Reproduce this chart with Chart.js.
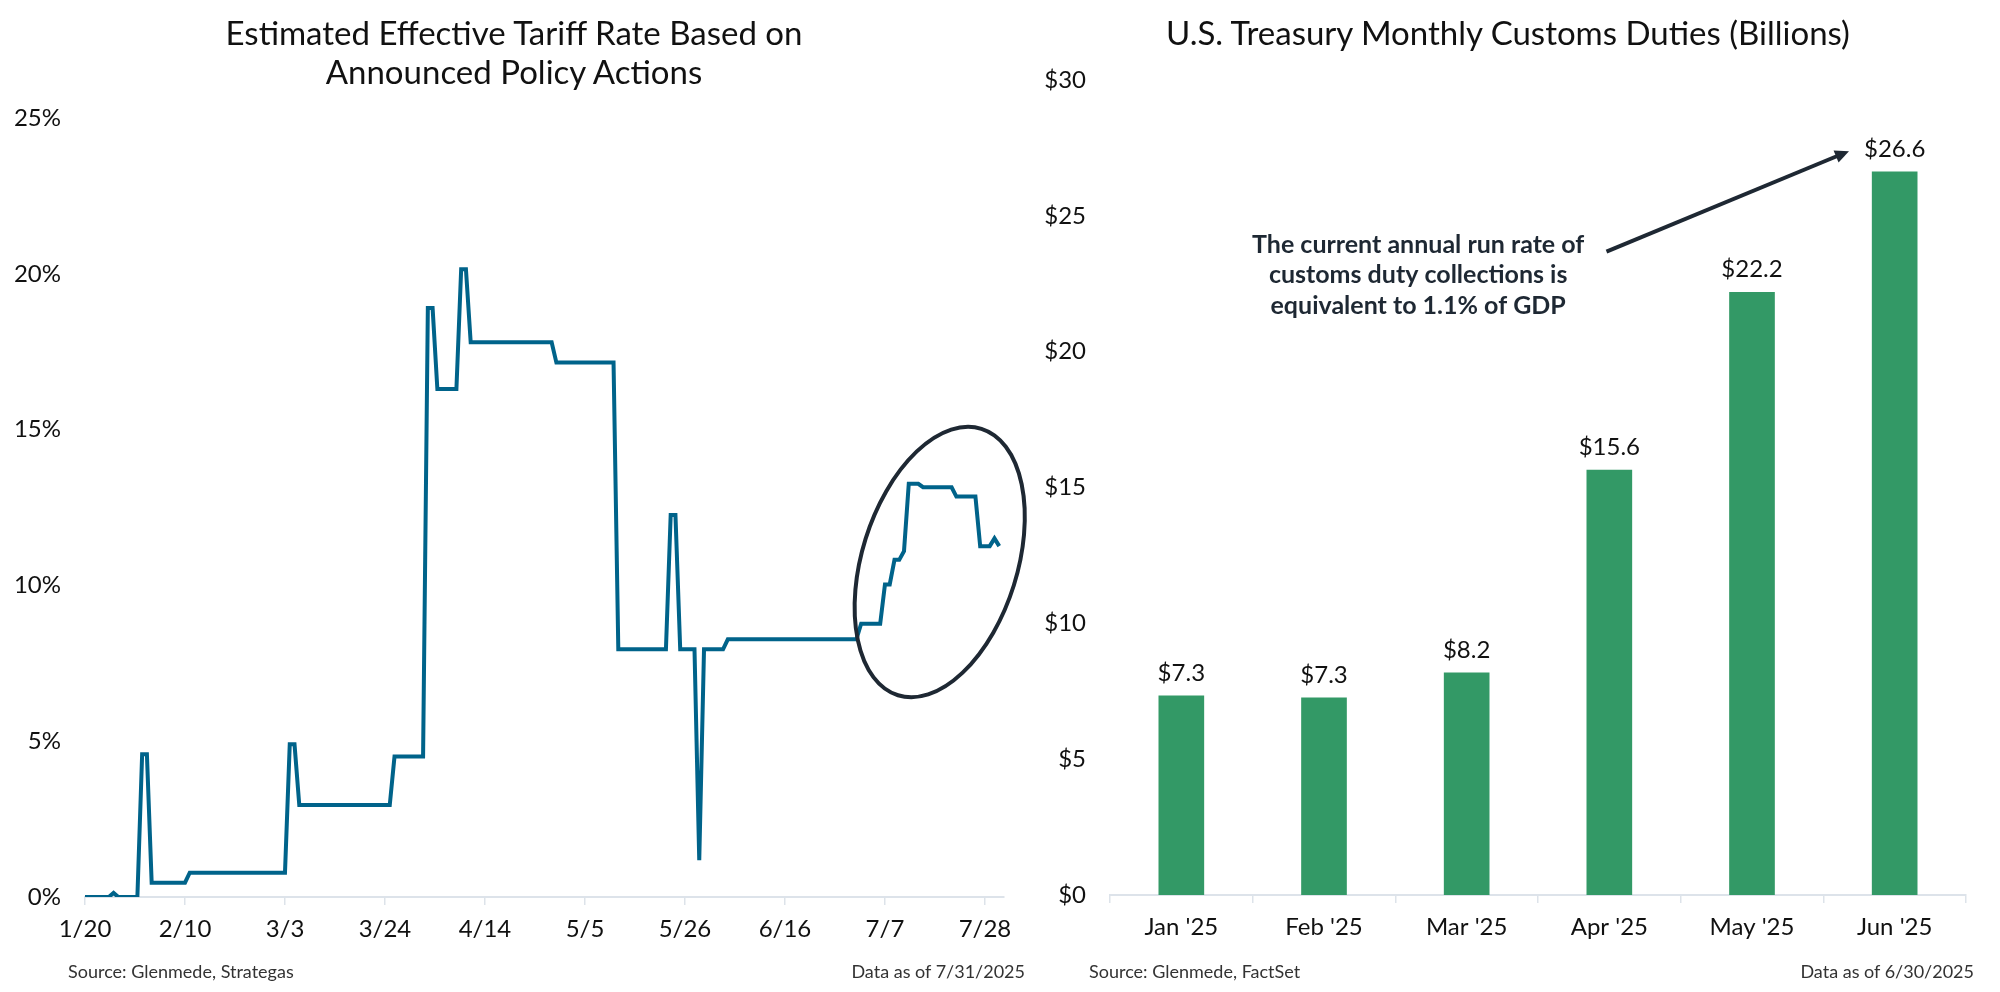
<!DOCTYPE html>
<html><head><meta charset="utf-8">
<script src="https://cdn.jsdelivr.net/npm/chart.js@4.4.1/dist/chart.umd.min.js"></script>
<style>
html,body{margin:0;padding:0;background:#fff;width:2000px;height:992px;overflow:hidden;font-family:Lato,sans-serif;color:#111;}
.title{position:absolute;text-align:center;font-size:33px;line-height:39px;color:#111;white-space:nowrap;z-index:2}
.note{position:absolute;font-size:18px;line-height:20px;color:#333;white-space:nowrap;z-index:2}
#w1{position:absolute;left:0;top:0;width:1060px;height:992px;z-index:1}
#w2{position:absolute;left:1000px;top:0;width:1000px;height:992px}
</style></head>
<body>
<div id="w2"><canvas id="c2"></canvas></div>
<div id="w1"><canvas id="c1"></canvas></div>
<div class="title" style="left:14px;top:13px;width:1000px">Estimated Effective Tariff Rate Based on<br>Announced Policy Actions</div>
<div class="title" style="left:1008px;top:13px;width:1000px">U.S. Treasury Monthly Customs Duties (Billions)</div>
<div class="note" style="left:68px;top:961px">Source: Glenmede, Strategas</div>
<div class="note" style="right:975px;top:961px">Data as of 7/31/2025</div>
<div class="note" style="left:1089px;top:961px">Source: Glenmede, FactSet</div>
<div class="note" style="right:26px;top:961px">Data as of 6/30/2025</div>
<script>
// ---- Left chart: estimated effective tariff rate (%), change points ----
const tariffDates = ['1/20','1/25','1/26','1/27','1/31','2/1','2/2','2/3','2/10','2/11',
  '3/3','3/4','3/5','3/6','3/25','3/26','4/1','4/2','4/3','4/4','4/8','4/9','4/10','4/11',
  '4/28','4/29','5/11','5/12','5/22','5/23','5/24','5/25','5/28','5/29','5/30','6/3','6/4',
  '7/1','7/2','7/6','7/7','7/8','7/9','7/10','7/11','7/12','7/14','7/15','7/21','7/22',
  '7/26','7/27','7/29','7/30','7/31'];
const tariffRates = [0,0,0.13,0,0,4.58,4.58,0.46,0.46,0.78,
  0.78,4.9,4.9,2.95,2.95,4.51,4.51,18.9,18.9,16.3,16.3,20.15,20.15,17.8,
  17.8,17.15,17.15,7.95,7.95,12.26,12.26,7.95,7.95,1.18,7.95,7.95,8.27,
  8.27,8.77,8.77,10.03,10.03,10.82,10.82,11.1,13.26,13.26,13.15,13.15,12.85,
  12.85,11.26,11.26,11.51,11.26];
const tariffTickLabels = ['1/20','2/10','3/3','3/24','4/14','5/5','5/26','6/16','7/7','7/28'];
const tariffYTicks = [0,5,10,15,20,25];

// ---- Right chart: monthly customs duties ($bn) ----
const months = ["Jan '25","Feb '25","Mar '25","Apr '25","May '25","Jun '25"];
const duties = [7.33,7.26,8.18,15.64,22.18,26.62];
const dutyYTicks = [0,5,10,15,20,25,30];
const noteLines = ['The current annual run rate of','customs duty collections is','equivalent to 1.1% of GDP'];

Chart.defaults.font.family = 'Lato, sans-serif';
Chart.defaults.color = '#111';
Chart.defaults.animation = false;

const START = new Date(2025,0,20);
function dayIndex(md){const [m,d]=md.split('/').map(Number);return Math.round((new Date(2025,m-1,d)-START)/86400000);}
const tickDays = tariffTickLabels.map(dayIndex);
const linePoints = tariffDates.map((d,i)=>({x:dayIndex(d),y:tariffRates[i]}));

const ink = '#1e2833';
const ellipsePlugin = {
  id:'ellipse',
  afterDatasetsDraw(chart){
    const {ctx,scales:{x,y}} = chart;
    const cx = x.getPixelForValue(179.5), cy = y.getPixelForValue(10.75);
    ctx.save();
    ctx.strokeStyle = ink; ctx.lineWidth = 4;
    ctx.beginPath();
    ctx.ellipse(cx,cy,139.6,77.7,-72.6*Math.PI/180,0,Math.PI*2);
    ctx.stroke();
    ctx.restore();
  }
};

new Chart(document.getElementById('c1'),{
  type:'line',
  data:{datasets:[{data:linePoints,borderColor:'#00638a',borderWidth:4,pointRadius:0,tension:0,fill:false}]},
  options:{
    responsive:true,maintainAspectRatio:false,
    layout:{padding:{top:118,bottom:35,left:0,right:56}},
    plugins:{legend:{display:false},tooltip:{enabled:false}},
    scales:{
      x:{type:'linear',min:0,max:193,
        afterBuildTicks(s){s.ticks = tickDays.map(v=>({value:v}));},
        afterFit(s){s.height=60;},
        grid:{drawOnChartArea:false,drawTicks:true,tickLength:8,color:'#dde3ea',lineWidth:1.5},
        border:{display:true,color:'#dde3ea',width:2},
        ticks:{autoSkip:false,maxRotation:0,padding:10,font:{size:24},color:'#111',
          callback:(v)=>{const i=tickDays.indexOf(v);return i>=0?tariffTickLabels[i]:'';}}
      },
      y:{min:0,max:25,
        afterBuildTicks(s){s.ticks = tariffYTicks.map(v=>({value:v}));},
        afterFit(s){s.width=85;},
        grid:{display:false,drawTicks:false},
        border:{display:false},
        ticks:{padding:24,font:{size:24},color:'#111',callback:v=>v+'%'}
      }
    }
  },
  plugins:[ellipsePlugin]
});

const barPlugin = {
  id:'barNotes',
  afterDatasetsDraw(chart){
    const {ctx,scales:{x,y}} = chart;
    const meta = chart.getDatasetMeta(0);
    ctx.save();
    ctx.fillStyle = '#111';
    ctx.font = '24px Lato, sans-serif';
    ctx.textAlign = 'center'; ctx.textBaseline = 'alphabetic';
    meta.data.forEach((bar,i)=>{ ctx.fillText('$'+duties[i].toFixed(1), bar.x, bar.y-15); });
    // annotation text
    ctx.fillStyle = ink;
    ctx.font = 'bold 25px Lato, sans-serif';
    ctx.textBaseline = 'middle';
    const tx = x.getPixelForValue(1.66), ty = y.getPixelForValue(22.82);
    noteLines.forEach((l,i)=>ctx.fillText(l, tx, ty + (i-1)*30.5));
    // arrow
    const x0 = x.getPixelForValue(2.98), y0 = y.getPixelForValue(23.68);
    const x1 = x.getPixelForValue(4.68), y1 = y.getPixelForValue(27.38);
    const ang = Math.atan2(y1-y0,x1-x0), hl = 14, hw = 6.5;
    const bx = x1 - hl*Math.cos(ang), by = y1 - hl*Math.sin(ang);
    ctx.strokeStyle = ink; ctx.lineWidth = 4;
    ctx.beginPath(); ctx.moveTo(x0,y0); ctx.lineTo(bx+2*Math.cos(ang),by+2*Math.sin(ang)); ctx.stroke();
    ctx.beginPath();
    ctx.moveTo(x1,y1);
    ctx.lineTo(bx - hw*Math.sin(ang), by + hw*Math.cos(ang));
    ctx.lineTo(bx + hw*Math.sin(ang), by - hw*Math.cos(ang));
    ctx.closePath(); ctx.fill();
    ctx.restore();
  }
};

new Chart(document.getElementById('c2'),{
  type:'bar',
  data:{labels:months,datasets:[{data:duties,backgroundColor:'#339966',borderWidth:0,barThickness:45}]},
  options:{
    responsive:true,maintainAspectRatio:false,
    layout:{padding:{top:80,bottom:37,left:0,right:34}},
    plugins:{legend:{display:false},tooltip:{enabled:false}},
    scales:{
      x:{
        afterFit(s){s.height=60;},
        grid:{offset:true,drawOnChartArea:false,drawTicks:true,tickLength:8,color:'#dde3ea',lineWidth:1.5},
        border:{display:true,color:'#dde3ea',width:2},
        ticks:{padding:10,font:{size:24},color:'#111'}
      },
      y:{min:0,max:30,
        afterBuildTicks(s){s.ticks = dutyYTicks.map(v=>({value:v}));},
        afterFit(s){s.width=110;},
        grid:{display:false,drawTicks:false},
        border:{display:false},
        ticks:{padding:24,font:{size:24},color:'#111',callback:v=>'$'+v}
      }
    }
  },
  plugins:[barPlugin]
});
</script>
</body></html>
